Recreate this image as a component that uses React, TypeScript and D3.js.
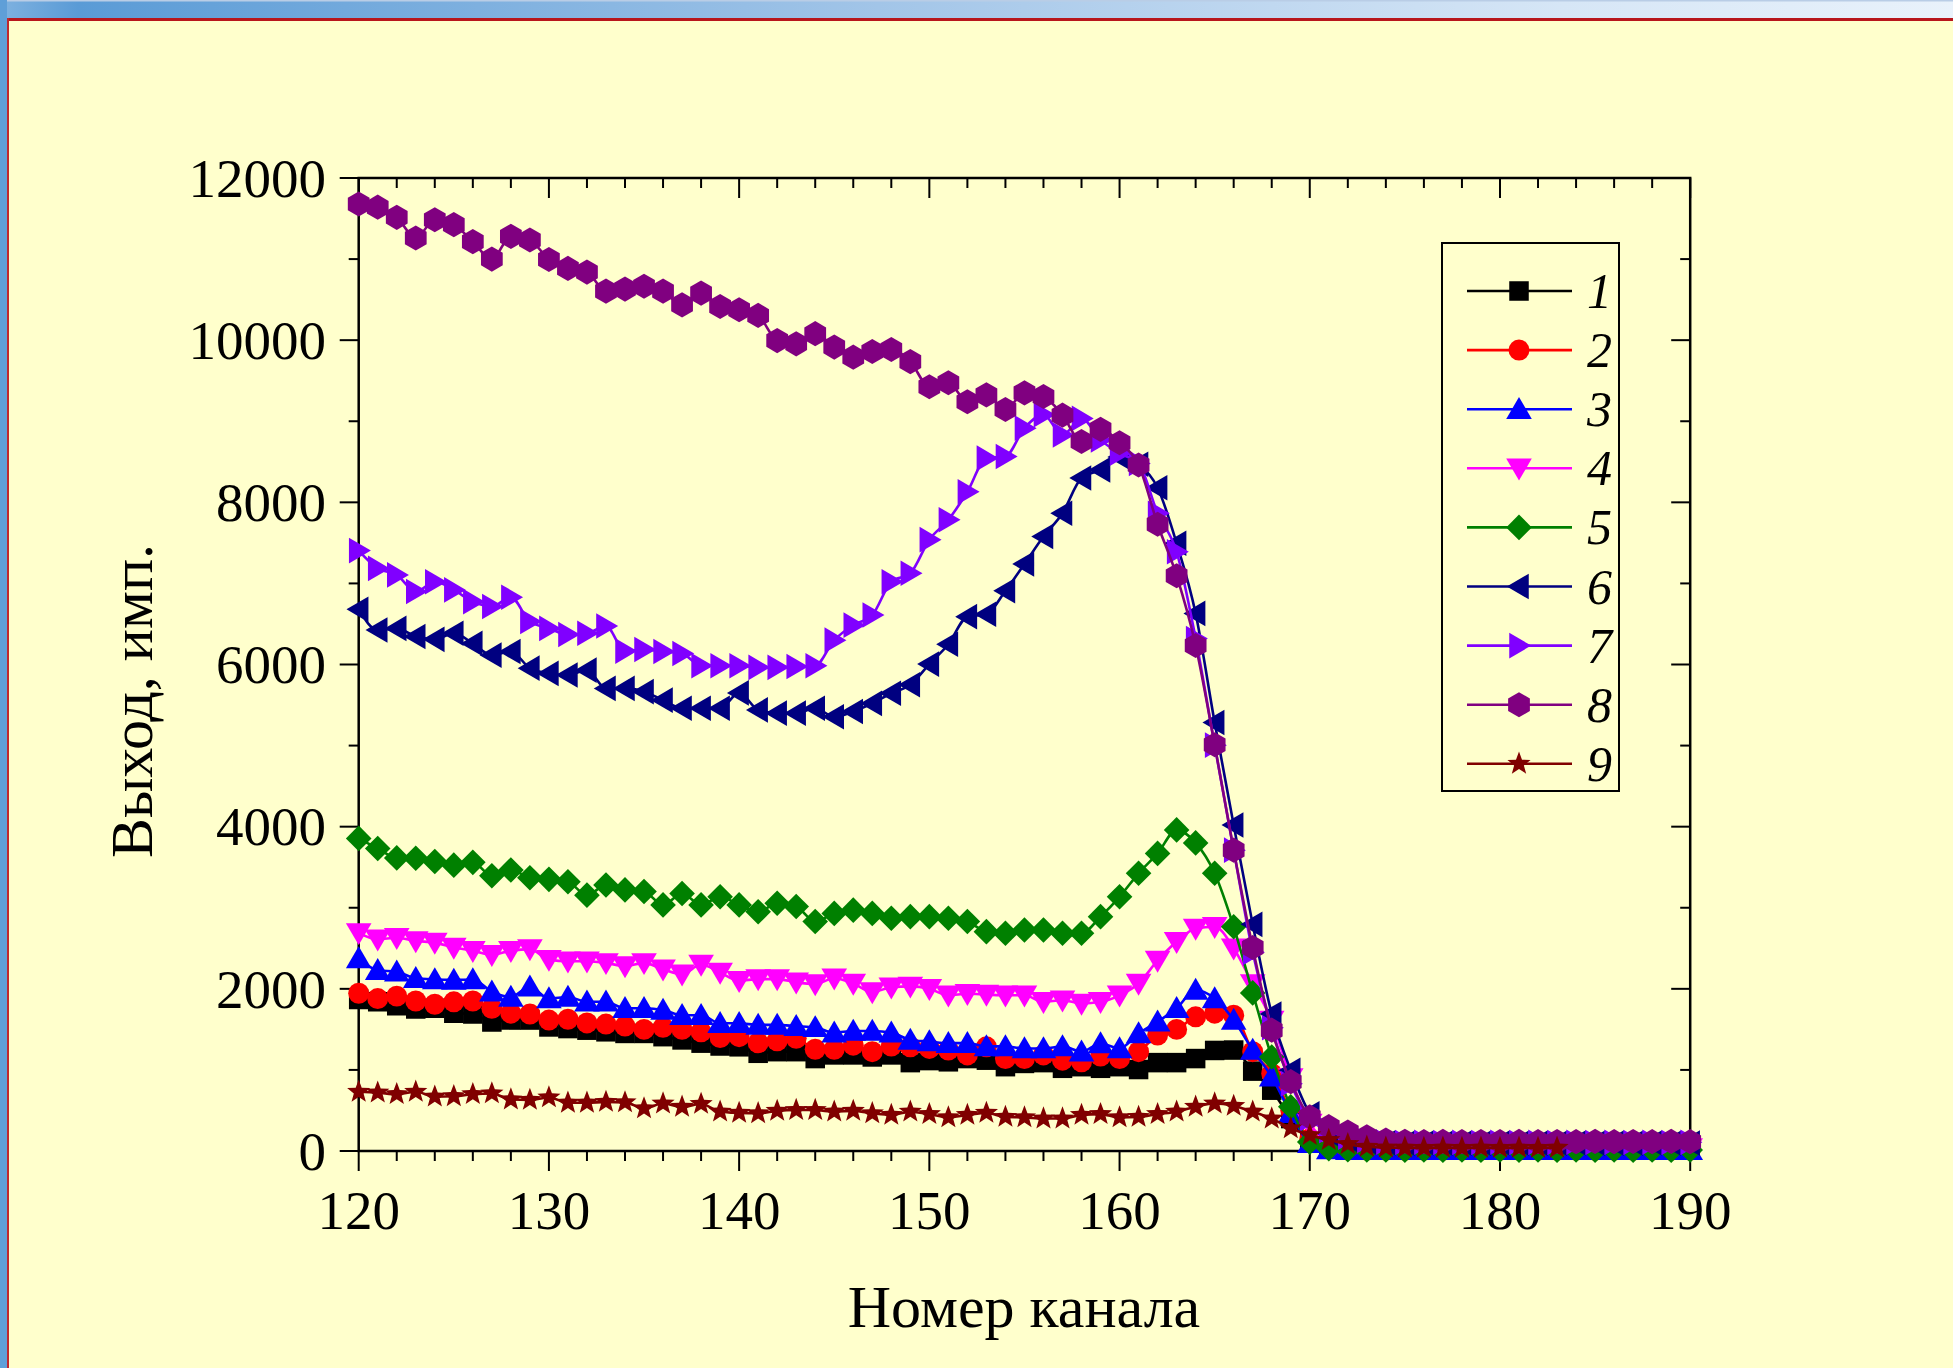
import React from 'react';
import * as d3 from 'd3';

// channel numbers (x categories)
const channels = d3.range(120, 191);

// counts per channel
const s1 = [1870, 1840, 1790, 1750, 1760, 1700, 1690, 1590, 1615, 1615, 1530, 1510, 1490, 1470, 1450, 1450, 1410, 1370, 1330, 1295,
  1285, 1205, 1225, 1225, 1140, 1185, 1185, 1160, 1185, 1090, 1115, 1100, 1140, 1120, 1040, 1080, 1090, 1020, 1040, 1020,
  1040, 1005, 1090, 1090, 1140, 1240, 1245, 985, 750, 400, 110, 30, 15, 12, 10, 12, 10, 10, 12, 10, 10, 12, 10, 10, 12, 10,
  10, 12, 10, 10, 12];
const s2 = [1945, 1880, 1910, 1850, 1810, 1840, 1850, 1760, 1700, 1690, 1615, 1625, 1580, 1565, 1540, 1500, 1525, 1500, 1470, 1400,
  1410, 1335, 1360, 1390, 1255, 1255, 1305, 1225, 1295, 1285, 1265, 1245, 1185, 1285, 1140, 1140, 1185, 1120, 1100, 1170,
  1140, 1225, 1430, 1500, 1655, 1700, 1675, 1225, 955, 500, 150, 40, 15, 12, 12, 10, 12, 10, 12, 10, 12, 10, 12, 10, 12, 10,
  12, 10, 12, 10, 12];
const s3 = [2375, 2230, 2210, 2130, 2115, 2110, 2115, 1965, 1900, 2025, 1880, 1900, 1840, 1840, 1760, 1760, 1740, 1675, 1675, 1575,
  1575, 1555, 1555, 1540, 1525, 1460, 1480, 1480, 1460, 1370, 1350, 1330, 1330, 1290, 1290, 1265, 1265, 1290, 1225, 1325,
  1265, 1450, 1595, 1760, 1985, 1880, 1615, 1245, 915, 465, 95, 20, 10, 10, 8, 10, 8, 10, 8, 10, 8, 10, 8, 10, 8, 10,
  8, 10, 8, 10, 8];
const s4 = [2690, 2610, 2630, 2590, 2570, 2510, 2470, 2420, 2470, 2490, 2360, 2340, 2340, 2320, 2280, 2320, 2240, 2180, 2300, 2200,
  2100, 2120, 2120, 2080, 2060, 2130, 2065, 1960, 2020, 2030, 2000, 1920, 1940, 1930, 1920, 1920, 1840, 1860, 1820, 1840,
  1920, 2065, 2350, 2580, 2745, 2765, 2500, 2060, 1610, 900, 340, 110, 45, 40, 38, 40, 38, 40, 38, 40, 38, 40, 38, 40, 38, 40,
  38, 40, 38, 40, 38];
const s5 = [3855, 3730, 3615, 3610, 3570, 3525, 3560, 3395, 3465, 3370, 3350, 3320, 3155, 3280, 3220, 3200, 3035, 3175, 3035, 3135,
  3035, 2950, 3055, 3015, 2830, 2930, 2970, 2930, 2870, 2890, 2890, 2870, 2830, 2705, 2685, 2725, 2725, 2685, 2685, 2890,
  3135, 3425, 3670, 3960, 3800, 3425, 2765, 1950, 1160, 545, 110, 30, 15, 12, 12, 10, 12, 10, 12, 10, 12, 10, 12, 10, 12, 10,
  12, 10, 12, 10, 12];
const s6 = [6680, 6425, 6445, 6345, 6310, 6385, 6260, 6115, 6160, 5955, 5890, 5870, 5930, 5705, 5705, 5665, 5560, 5460, 5460, 5460,
  5650, 5440, 5400, 5400, 5460, 5355, 5420, 5520, 5645, 5750, 6005, 6250, 6590, 6620, 6910, 7240, 7578, 7865, 8300, 8400,
  8560, 8470, 8180, 7495, 6630, 5285, 4020, 2795, 1690, 995, 460, 215, 140, 110, 100, 95, 98, 95, 97, 95, 98, 95, 97, 95, 98, 95,
  97, 95, 98, 95, 97];
const s7 = [7405, 7185, 7105, 6900, 7020, 6920, 6775, 6715, 6830, 6530, 6445, 6370, 6385, 6475, 6165, 6185, 6160, 6135, 5985, 5985,
  5985, 5965, 5965, 5975, 5985, 6300, 6485, 6610, 7020, 7125, 7540, 7785, 8130, 8545, 8565, 8915, 9080, 8830, 9035, 8770,
  8605, 8480, 7865, 7390, 6320, 5005, 3710, 2450, 1520, 830, 400, 250, 170, 130, 110, 105, 108, 105, 107, 105, 108, 105, 107, 105, 108, 105,
  107, 105, 108, 105, 107];
const s8 = [11680, 11640, 11515, 11260, 11485, 11425, 11215, 11000, 11280, 11235, 10995, 10885, 10840, 10605, 10630, 10665, 10605, 10435, 10580, 10415,
  10375, 10305, 9995, 9955, 10080, 9915, 9790, 9860, 9885, 9735, 9425, 9475, 9240, 9325, 9145, 9350, 9305, 9075, 8750, 8900,
  8735, 8460, 7730, 7095, 6235, 5010, 3710, 2510, 1490, 855, 420, 300, 235, 175, 135, 120, 115, 118, 115, 117, 115, 118, 115, 117, 115, 118,
  115, 117, 115, 118, 115];
const s9 = [730, 720, 700, 730, 670, 675, 700, 710, 635, 630, 660, 595, 595, 605, 600, 525, 585, 545, 580, 485,
  470, 465, 495, 505, 505, 485, 495, 465, 445, 485, 455, 415, 445, 470, 420, 415, 400, 400, 445, 455,
  415, 420, 455, 485, 545, 585, 555, 485, 400, 280, 195, 135, 85, 52, 42, 40, 38, 40, 38, 40, 38, 40, 38, 40];

const seriesLabels = ['1', '2', '3', '4', '5', '6', '7', '8', '9'];
const seriesValues = [s1, s2, s3, s4, s5, s6, s7, s8, s9];
const seriesColors = ['#000000', '#ff0000', '#0000ff', '#ff00ff', '#008000', '#000080', '#8000ff', '#800080', '#800000'];
const seriesMarkers = ['square', 'circle', 'up', 'down', 'diamond', 'left', 'right', 'hexagon', 'star'];

const xMajorTicks = [120, 130, 140, 150, 160, 170, 180, 190];
const yMajorTicks = [0, 2000, 4000, 6000, 8000, 10000, 12000];

const W = 1953;
const H = 1368;
const FONT = '"Liberation Serif", "Times New Roman", serif';
const MS = 1.22; // marker scale

function poly(pts: number[][]) {
  return 'M' + pts.map(p => (p[0] * MS).toFixed(2) + ',' + (p[1] * MS).toFixed(2)).join('L') + 'Z';
}

function markerPath(kind: string) {
  switch (kind) {
    case 'square':
      return poly([[-8, -8], [8, -8], [8, 8], [-8, 8]]);
    case 'circle': {
      const p = d3.path();
      p.arc(0, 0, 8.6 * MS, 0, Math.PI * 2);
      return p.toString();
    }
    case 'up':
      return poly([[0, -10], [10.5, 8], [-10.5, 8]]);
    case 'down':
      return poly([[0, 10], [10.5, -8], [-10.5, -8]]);
    case 'left':
      return poly([[-10, 0], [8, -10.5], [8, 10.5]]);
    case 'right':
      return poly([[10, 0], [-8, -10.5], [-8, 10.5]]);
    case 'diamond':
      return poly([[0, -10.5], [10.5, 0], [0, 10.5], [-10.5, 0]]);
    case 'hexagon':
      return poly(d3.range(6).map(k => {
        const a = (-90 + 60 * k) * Math.PI / 180;
        return [10.3 * Math.cos(a), 10.3 * Math.sin(a)];
      }));
    case 'star':
      return poly(d3.range(10).map(k => {
        const a = (-90 + 36 * k) * Math.PI / 180;
        const r = k % 2 === 0 ? 10 : 4.2;
        return [r * Math.cos(a), r * Math.sin(a)];
      }));
    default:
      return '';
  }
}

export default function App() {
  const x = d3.scaleLinear().domain([120, 190]).range([358.7, 1690.2]);
  const y = d3.scaleLinear().domain([0, 12000]).range([1151, 178]);
  const [x0, x1] = x.range();
  const [y0, y1] = y.range();

  const xMinor = d3.range(120, 191, 2);
  const yMinor = d3.range(0, 12001, 1000);

  const line = d3.line<number>()
    .curve(d3.curveMonotoneX)
    .x((_, i) => x(channels[i]))
    .y(v => y(v));

  // legend geometry
  const legX = 1442, legY = 243, legW = 177, legH = 548;
  const legRow0 = 291, legStep = 59.1;

  return (
    <svg width={W} height={H} style={{ position: 'absolute', left: 0, top: 0 }}
      xmlns="http://www.w3.org/2000/svg">
      <defs>
        <linearGradient id="titlebar" x1="0" x2="1" y1="0" y2="0">
          <stop offset="0" stopColor="#7fb2e0" />
          <stop offset="0.04" stopColor="#5a9bd6" />
          <stop offset="0.45" stopColor="#a2c5e8" />
          <stop offset="0.8" stopColor="#d6e6f6" />
          <stop offset="1" stopColor="#e9f2fb" />
        </linearGradient>
        <clipPath id="plotclip">
          <rect x={x0 - 14} y={y1 - 14} width={x1 - x0 + 28} height={y0 - y1 + 28} />
        </clipPath>
      </defs>

      {/* page */}
      <rect x={0} y={0} width={W} height={H} fill="#ffffcc" />
      <rect x={0} y={0} width={W} height={19} fill="url(#titlebar)" />
      <rect x={0} y={0} width={W} height={1.5} fill="#b9cde6" />
      <rect x={0} y={0} width={7} height={H} fill="#5f9fd8" />
      <rect x={7} y={18} width={W - 7} height={3} fill="#b8161c" />
      <rect x={7} y={18} width={2} height={H - 18} fill="#c0282e" />

      {/* axes frame */}
      <rect x={x0} y={y1} width={x1 - x0} height={y0 - y1} fill="none" stroke="#000" strokeWidth={2.5} />

      {/* x ticks: bottom outward, top inward */}
      {xMinor.map(t => {
        const major = t % 10 === 0;
        const len = major ? 20 : 10;
        return (
          <g key={'xt' + t} stroke="#000" strokeWidth={2}>
            <line x1={x(t)} x2={x(t)} y1={y0} y2={y0 + len} />
            <line x1={x(t)} x2={x(t)} y1={y1} y2={y1 + len} />
          </g>
        );
      })}
      {/* y ticks: left outward, right inward */}
      {yMinor.map(t => {
        const major = t % 2000 === 0;
        const len = major ? 19 : 10;
        return (
          <g key={'yt' + t} stroke="#000" strokeWidth={2}>
            <line x1={x0} x2={x0 - len} y1={y(t)} y2={y(t)} />
            <line x1={x1} x2={x1 - len} y1={y(t)} y2={y(t)} />
          </g>
        );
      })}

      {xMajorTicks.map(t => (
        <text key={'xl' + t} x={x(t)} y={1229} textAnchor="middle" fontFamily={FONT} fontSize={55} fill="#000">{t}</text>
      ))}
      {yMajorTicks.map(t => (
        <text key={'yl' + t} x={326} y={y(t)} dy="0.34em" textAnchor="end" fontFamily={FONT} fontSize={55} fill="#000">{t}</text>
      ))}

      <text x={1024} y={1327} textAnchor="middle" fontFamily={FONT} fontSize={60} fill="#000">Номер канала</text>
      <text transform="translate(152,701) rotate(-90)" textAnchor="middle" fontFamily={FONT} fontSize={60} fill="#000">Выход, имп.</text>

      {/* series */}
      <g clipPath="url(#plotclip)">
        {seriesValues.map((vals, si) => (
          <g key={'s' + si}>
            <path d={line(vals) || ''} fill="none" stroke={seriesColors[si]} strokeWidth={2.6} />
            {vals.map((v, i) => (
              <path key={i} d={markerPath(seriesMarkers[si])}
                transform={`translate(${x(channels[i])},${y(v)})`} fill={seriesColors[si]} />
            ))}
          </g>
        ))}
      </g>

      {/* legend */}
      <rect x={legX} y={legY} width={legW} height={legH} fill="none" stroke="#000" strokeWidth={2} />
      {seriesLabels.map((lab, i) => {
        const ry = legRow0 + i * legStep;
        return (
          <g key={'lg' + i}>
            <line x1={1467} x2={1572} y1={ry} y2={ry} stroke={seriesColors[i]} strokeWidth={2.6} />
            <path d={markerPath(seriesMarkers[i])} transform={`translate(1519,${ry})`} fill={seriesColors[i]} />
            <text x={1587} y={ry} dy="0.34em" fontFamily={FONT} fontStyle="italic" fontSize={50} fill="#000">{lab}</text>
          </g>
        );
      })}
    </svg>
  );
}
